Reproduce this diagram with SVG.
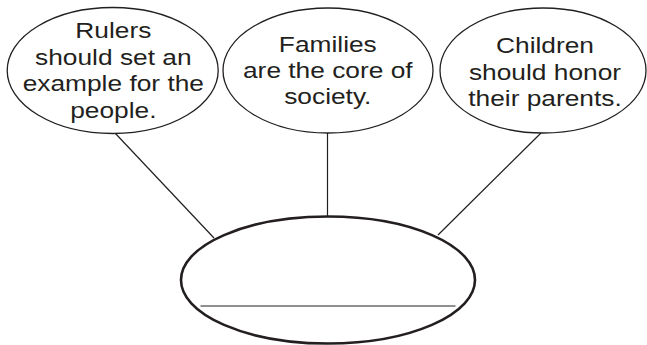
<svg xmlns="http://www.w3.org/2000/svg" width="647" height="345" viewBox="0 0 647 345">
<style>
.bubble{fill:#fff;stroke:#231f20;stroke-width:1.3}
.main{fill:#fff;stroke:#231f20;stroke-width:2.6}
.conn{stroke:#231f20;stroke-width:1.2;fill:none}
.t{font-family:"Liberation Sans",Arial,sans-serif;font-size:22.5px;fill:#231f20;text-anchor:middle}
</style>
<rect width="647" height="345" fill="#fff"/>
<g id="connectors">
<line class="conn" x1="115" y1="133" x2="214" y2="238"/>
<line class="conn" x1="327.5" y1="133" x2="327.5" y2="217"/>
<line class="conn" x1="541" y1="133" x2="438" y2="235"/>
</g>
<g id="node-rulers">
<ellipse class="bubble" cx="112.7" cy="70.5" rx="105.5" ry="63"/>
<g transform="translate(113.3,0) scale(1.17,1)">
<text class="t" x="0" y="38.3">Rulers</text>
<text class="t" x="0" y="65">should set an</text>
<text class="t" x="0" y="91.5">example for the</text>
<text class="t" x="0" y="118.3">people.</text>
</g>
</g>
<g id="node-families">
<ellipse class="bubble" cx="328" cy="70.5" rx="105" ry="62.5"/>
<g transform="translate(327.8,0) scale(1.17,1)">
<text class="t" x="0" y="51.7">Families</text>
<text class="t" x="0" y="78.3">are the core of</text>
<text class="t" x="0" y="103.8">society.</text>
</g>
</g>
<g id="node-children">
<ellipse class="bubble" cx="543" cy="70.5" rx="103" ry="62.5"/>
<g transform="translate(545,0) scale(1.17,1)">
<text class="t" x="0" y="53.3">Children</text>
<text class="t" x="0" y="80">should honor</text>
<text class="t" x="0" y="106">their parents.</text>
</g>
</g>
<g id="node-center">
<ellipse class="main" cx="328" cy="280" rx="147" ry="63.5"/>
<line x1="200.5" y1="306" x2="455.5" y2="306" stroke="#231f20" stroke-width="1.2"/>
</g>
</svg>
